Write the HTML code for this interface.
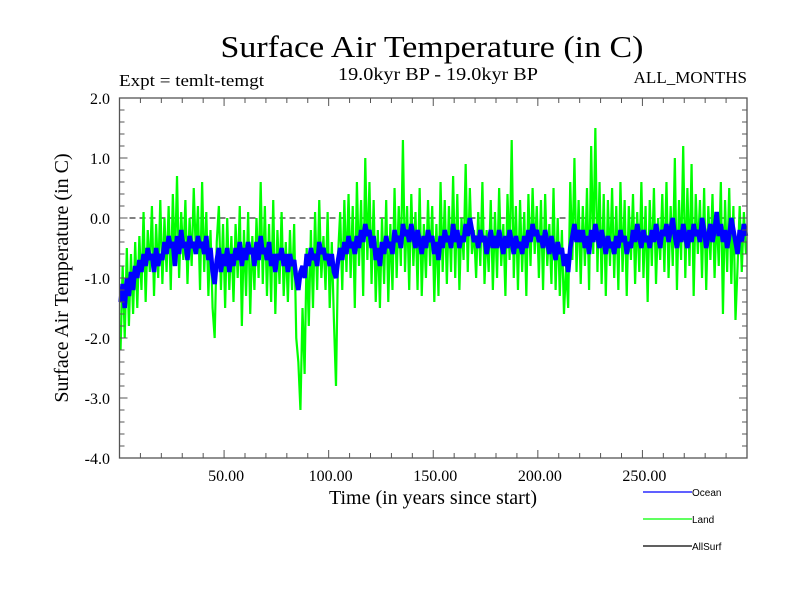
<!DOCTYPE html>
<html><head><meta charset="utf-8"><style>
html,body{margin:0;padding:0;background:#fff;}
svg{display:block;font-family:"Liberation Serif",serif;}
</style></head><body>
<svg id="chart" width="800" height="600" viewBox="0 0 800 600" xmlns="http://www.w3.org/2000/svg">
<rect x="0" y="0" width="800" height="600" fill="#fff"/>
<text x="432" y="57" font-size="31" text-anchor="middle" textLength="423" lengthAdjust="spacingAndGlyphs">Surface Air Temperature (in C)</text>
<text x="119" y="86" font-size="17" textLength="145" lengthAdjust="spacingAndGlyphs">Expt = temlt-temgt</text>
<text x="438" y="80" font-size="18" text-anchor="middle" textLength="200" lengthAdjust="spacingAndGlyphs">19.0kyr BP - 19.0kyr BP</text>
<text x="747" y="83" font-size="17" text-anchor="end">ALL_MONTHS</text>
<text x="433" y="504" font-size="20" text-anchor="middle">Time (in years since start)</text>
<text transform="translate(68,278) rotate(-90)" font-size="20" text-anchor="middle">Surface Air Temperature (in C)</text>
<g id="plot"></g>
<g font-family="Liberation Sans, sans-serif" font-size="10">
<line x1="643" y1="492" x2="692" y2="492" stroke="#0000ff" stroke-width="1.3"/>
<text x="692" y="496">Ocean</text>
<line x1="643" y1="519" x2="692" y2="519" stroke="#00ff00" stroke-width="1.3"/>
<text x="692" y="523">Land</text>
<line x1="643" y1="546" x2="692" y2="546" stroke="#000" stroke-width="1.3"/>
<text x="692" y="550">AllSurf</text>
</g>
</svg>
<script>
const years = Array.from({length:300},(_, i) => i);
const oceanValues = [
-1.4,-1.1,-1.5,-1.0,-1.3,-0.9,-1.2,-0.8,-1.0,-0.7,-0.9,-0.6,-0.8,-0.5,-0.7,-0.6,-0.9,-0.5,-0.8,-0.6,
-0.7,-0.4,-0.6,-0.3,-0.5,-0.4,-0.8,-0.3,-0.6,-0.2,-0.5,-0.4,-0.7,-0.3,-0.5,-0.4,-0.6,-0.3,-0.5,-0.4,
-0.6,-0.3,-0.7,-0.5,-0.9,-1.1,-0.7,-0.5,-0.9,-0.6,-0.8,-0.5,-0.9,-0.6,-0.8,-0.5,-0.7,-0.4,-0.8,-0.5,
-0.7,-0.4,-0.6,-0.5,-0.8,-0.4,-0.7,-0.3,-0.6,-0.5,-0.7,-0.4,-0.8,-0.6,-0.9,-0.6,-0.7,-0.5,-0.8,-0.6,
-0.9,-0.6,-0.8,-0.7,-1.0,-1.2,-0.9,-0.8,-1.0,-0.6,-0.8,-0.5,-0.7,-0.6,-0.8,-0.4,-0.6,-0.5,-0.7,-0.6,
-0.8,-0.6,-0.9,-1.0,-0.7,-0.5,-0.7,-0.4,-0.6,-0.3,-0.5,-0.4,-0.6,-0.3,-0.5,-0.2,-0.4,-0.1,-0.3,-0.2,
-0.5,-0.3,-0.7,-0.5,-0.8,-0.4,-0.6,-0.3,-0.5,-0.4,-0.6,-0.2,-0.4,-0.3,-0.5,-0.1,-0.3,-0.2,-0.4,-0.1,
-0.3,-0.5,-0.2,-0.4,-0.6,-0.3,-0.5,-0.2,-0.4,-0.3,-0.6,-0.4,-0.7,-0.3,-0.5,-0.2,-0.4,-0.3,-0.5,-0.1,
-0.4,-0.2,-0.5,-0.3,-0.4,-0.1,-0.3,0.0,-0.2,-0.4,-0.3,-0.5,-0.2,-0.4,-0.3,-0.6,-0.4,-0.2,-0.5,-0.3,
-0.5,-0.2,-0.4,-0.6,-0.3,-0.5,-0.2,-0.4,-0.6,-0.3,-0.5,-0.4,-0.6,-0.3,-0.5,-0.2,-0.4,-0.1,-0.3,-0.2,
-0.4,-0.3,-0.5,-0.2,-0.4,-0.6,-0.3,-0.5,-0.7,-0.4,-0.6,-0.5,-0.8,-0.6,-0.9,-0.5,-0.3,-0.1,-0.4,-0.2,
-0.4,-0.2,-0.5,-0.3,-0.6,-0.2,-0.4,-0.1,-0.3,-0.5,-0.2,-0.4,-0.6,-0.3,-0.5,-0.4,-0.6,-0.3,-0.5,-0.2,
-0.4,-0.3,-0.6,-0.4,-0.5,-0.2,-0.4,-0.1,-0.3,-0.5,-0.2,-0.4,-0.3,-0.5,-0.2,-0.4,-0.1,-0.3,-0.5,-0.2,
-0.3,-0.1,-0.4,-0.2,0.0,-0.3,-0.5,-0.2,-0.4,-0.1,-0.3,-0.5,-0.2,-0.4,-0.1,-0.3,-0.2,-0.4,0.0,-0.2,
-0.5,-0.3,-0.1,-0.4,-0.2,0.1,-0.3,-0.1,-0.4,-0.2,-0.5,-0.3,0.0,-0.2,-0.4,-0.6,-0.2,-0.4,-0.1,-0.3
];
const landValues = [
-2.2,-0.8,-2.0,-0.5,-1.8,-0.6,-1.6,-0.4,-1.5,-0.3,-1.2,0.1,-1.4,-0.2,-0.9,0.2,-1.3,-0.1,-1.0,0.3,
-1.1,0.0,-0.9,0.2,-1.2,0.4,-0.8,0.7,-1.0,0.1,-0.7,0.3,-1.1,0.0,-0.8,0.5,-0.6,0.2,-1.2,0.6,
-0.9,0.1,-1.3,-0.2,-1.5,-2.0,-0.4,0.2,-1.2,-0.1,-1.5,0.0,-1.2,-0.3,-1.4,-0.1,-1.0,0.2,-1.8,-0.2,
-1.3,0.1,-1.6,-0.3,-1.2,0.0,-1.0,0.6,-1.1,0.2,-1.3,-0.1,-1.4,0.3,-1.6,-0.2,-1.1,0.1,-1.3,-0.4,
-1.4,-0.2,-1.2,-0.1,-2.0,-2.4,-3.2,-1.5,-2.6,-0.5,-1.8,-0.2,-1.5,0.1,-1.2,0.3,-1.0,-0.3,-1.2,0.1,
-1.5,-0.4,-1.7,-2.8,-0.6,0.1,-1.2,0.3,-0.9,0.4,-1.0,0.2,-1.5,0.6,-0.8,0.3,-1.3,1.0,-0.7,0.6,
-1.1,0.3,-1.4,-0.2,-1.5,0.0,-1.1,0.3,-1.4,-0.1,-1.2,0.5,-1.0,0.2,-0.8,1.3,-0.9,0.2,-1.2,0.4,
-0.8,0.1,-1.2,0.5,-1.3,-0.1,-1.0,0.3,-0.8,0.2,-1.4,-0.1,-1.3,0.6,-0.9,0.3,-1.1,0.2,-0.9,0.7,
-1.0,0.4,-1.2,0.0,-0.7,0.9,-0.9,0.5,-0.6,-0.2,-1.0,0.1,-0.8,0.6,-1.1,-0.2,-0.9,0.3,-1.2,0.1,
-1.0,0.5,-0.8,-0.1,-1.3,0.4,-0.7,1.3,-1.0,0.2,-1.2,0.3,-0.9,0.1,-1.3,0.4,-0.8,0.5,-0.6,0.2,
-1.0,0.3,-1.2,0.4,-0.8,-0.1,-1.1,0.5,-1.2,0.0,-1.3,-0.2,-1.6,-0.8,-1.5,0.6,-0.7,1.0,-0.9,0.3,
-1.1,0.2,-0.8,0.5,-1.2,1.2,-0.6,1.5,-0.9,0.6,-1.1,0.4,-1.3,0.3,-0.8,0.5,-1.0,0.2,-1.2,0.6,
-0.9,0.3,-1.3,0.2,-0.7,0.4,-1.1,0.1,-0.9,0.6,-1.0,0.2,-1.4,0.3,-0.8,0.5,-1.1,0.0,-0.7,0.4,
-0.9,0.6,-1.0,0.2,-0.8,1.0,-1.2,0.3,-0.7,1.2,-1.0,0.5,-0.8,0.9,-1.3,0.4,-0.6,0.3,-1.0,0.5,
-1.2,0.2,-0.7,0.4,-1.0,0.1,-0.8,0.6,-1.6,0.3,-0.9,0.5,-1.1,0.2,-1.7,-0.8,0.2,-0.9,0.1,-0.6
];
const yTickValues = [2,1,0,-1,-2,-3,-4];
const yTickLabels = ["2.0","1.0","0.0","-1.0","-2.0","-3.0","-4.0"];
const xTickValues = [50,100,150,200,250];
const xTickLabels = ["50.00","100.00","150.00","200.00","250.00"];

const NS = "http://www.w3.org/2000/svg";
const L = 119.5, R = 747, T = 98, B = 458;
const xMin = 0, xMax = 300, yMin = -4, yMax = 2;
const xs = v => L + (v - xMin) / (xMax - xMin) * (R - L);
const ys = v => B - (v - yMin) / (yMax - yMin) * (B - T);
const plot = document.getElementById('plot');
function mk(tag, attrs){ const e = document.createElementNS(NS, tag); for (const k in attrs) e.setAttribute(k, attrs[k]); plot.appendChild(e); return e; }

const zl = mk('line', {x1:L, x2:R, y1:ys(0), y2:ys(0), stroke:'#000', 'stroke-width':1, 'stroke-dasharray':'6,4'});



function series(vals, color, w, name){
  const d = vals.map((v,i) => (i ? 'L' : 'M') + xs(years[i] + 0.5).toFixed(2) + ',' + ys(v).toFixed(2)).join('');
  const p = mk('path', {d, fill:'none', stroke:color, 'stroke-width':w, 'stroke-linejoin':'bevel'});
  
  
}
series(landValues, '#00ff00', 2.2, 'land-series');
series(oceanValues, '#0000ff', 4.5, 'ocean-series');

const fr = mk('rect', {x:L, y:T, width:R-L, height:B-T, fill:'none', stroke:'#555', 'stroke-width':1.3});



for (let v = yMin; v <= yMax + 1e-9; v += 0.2) {
  const major = Math.abs(v - Math.round(v)) < 1e-6;
  const len = major ? 8 : 5;
  const y = ys(v);
  const a = mk('line', {x1:L, x2:L+len, y1:y, y2:y, stroke:'#555', 'stroke-width':1});
  
  
  const b = mk('line', {x1:R, x2:R-len, y1:y, y2:y, stroke:'#555', 'stroke-width':1});
  
  
}
for (let v = 10; v < xMax; v += 10) {
  const major = v % 50 === 0;
  const len = major ? 8 : 5;
  const x = xs(v);
  const a = mk('line', {x1:x, x2:x, y1:B, y2:B-len, stroke:'#555', 'stroke-width':1});
  
  
  const b = mk('line', {x1:x, x2:x, y1:T, y2:T+len, stroke:'#555', 'stroke-width':1});
  
  
}
yTickValues.forEach((v,i) => {
  const t = mk('text', {x:110, y:ys(v)+6, 'font-size':16, 'text-anchor':'end'});
  t.textContent = yTickLabels[i];
  
  
});
xTickValues.forEach((v,i) => {
  const t = mk('text', {x:xs(v)+2, y:481, 'font-size':16, 'text-anchor':'middle'});
  t.textContent = xTickLabels[i];
  
  
});
</script>
</body></html>
